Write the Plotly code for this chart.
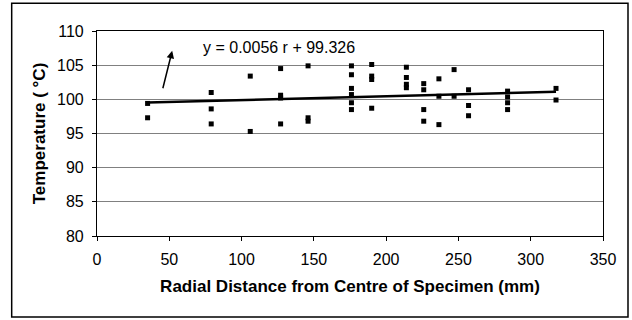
import plotly.graph_objects as go

# Data
radial_mm = [35, 35,
             79, 79, 79,
             106, 106,
             127, 127, 127, 127,
             146, 146, 146,
             176, 176, 176, 176, 176, 176,
             190, 190, 190, 190,
             214, 214, 214, 214,
             226, 226, 226, 226,
             236.5, 236.5, 236.5,
             247, 247,
             257, 257, 257,
             284, 284, 284, 284,
             317.5, 317.5]
temperature_c = [99.4, 97.3,
                 101.0, 98.6, 96.4,
                 103.4, 95.3,
                 104.5, 100.6, 100.2, 96.4,
                 104.9, 97.3, 96.8,
                 104.9, 103.6, 101.6, 100.7, 99.5, 98.5,
                 105.1, 103.4, 102.9, 98.7,
                 104.7, 103.2, 102.2, 101.7,
                 102.3, 101.4, 98.5, 96.8,
                 103.0, 100.45, 96.3,
                 104.35, 100.45,
                 101.4, 99.1, 97.6,
                 101.2, 100.35, 99.5, 98.5,
                 101.6, 99.9]

# Trendline coefficients as printed on the chart
slope = 0.0056
intercept = 99.326
trend_x = [min(radial_mm), max(radial_mm)]
trend_y = [slope * r + intercept for r in trend_x]

x_ticks = [0, 50, 100, 150, 200, 250, 300, 350]
y_ticks = [80, 85, 90, 95, 100, 105, 110]

FONT = "Arial, 'Liberation Sans', sans-serif"

fig = go.Figure()
fig.add_trace(go.Scatter(
    x=radial_mm, y=temperature_c, mode="markers",
    marker=dict(symbol="square", size=5, color="black"),
    showlegend=False, hoverinfo="x+y"))
fig.add_trace(go.Scatter(
    x=trend_x, y=trend_y, mode="lines",
    line=dict(color="black", width=2.5),
    showlegend=False, hoverinfo="skip"))

fig.add_annotation(
    x=126, y=107.65, xref="x", yref="y",
    text="y = 0.0056 r + 99.326", showarrow=False,
    font=dict(family=FONT, size=16, color="black"))
fig.add_annotation(
    x=52, y=107.1, ax=45.3, ay=101.4, xref="x", yref="y",
    axref="x", ayref="y", text="", showarrow=True,
    arrowhead=2, arrowsize=1, arrowwidth=1.5, arrowcolor="black")

# outer chart border (plot area: x 97..603, y 31..236 px)
fig.add_shape(type="rect", xref="paper", yref="paper",
              x0=-0.1686, x1=1.0494, y0=-0.395, y1=1.135,
              line=dict(color="black", width=1.5), layer="above")

fig.update_layout(
    width=632, height=320,
    margin=dict(l=97, r=29, t=31, b=84),
    paper_bgcolor="white", plot_bgcolor="white",
    font=dict(family=FONT, size=16, color="black"),
    xaxis=dict(
        range=[0, 350], tickvals=x_ticks, ticktext=[str(v) for v in x_ticks],
        showgrid=False, zeroline=False,
        showline=True, linecolor="black", linewidth=1.2, mirror=True,
        ticks="outside", ticklen=4, tickcolor="black",
        tickfont=dict(size=16), ticklabelstandoff=5,
        title=dict(text="<b>Radial Distance from Centre of Specimen (mm)</b>",
                   font=dict(size=17), standoff=12)),
    yaxis=dict(
        range=[80, 110], tickvals=y_ticks, ticktext=[str(v) for v in y_ticks],
        showgrid=True, gridcolor="#808080", gridwidth=1, zeroline=False,
        showline=True, linecolor="black", linewidth=1.2, mirror=True,
        ticks="outside", ticklen=4, tickcolor="black",
        tickfont=dict(size=16), ticklabelstandoff=5,
        title=dict(text="<b>Temperature ( °C)</b>",
                   font=dict(size=17), standoff=7)),
)

fig.write_html("out.html", config={"displayModeBar": False},
               post_script="document.body.style.margin='0';document.body.style.overflow='hidden';")
